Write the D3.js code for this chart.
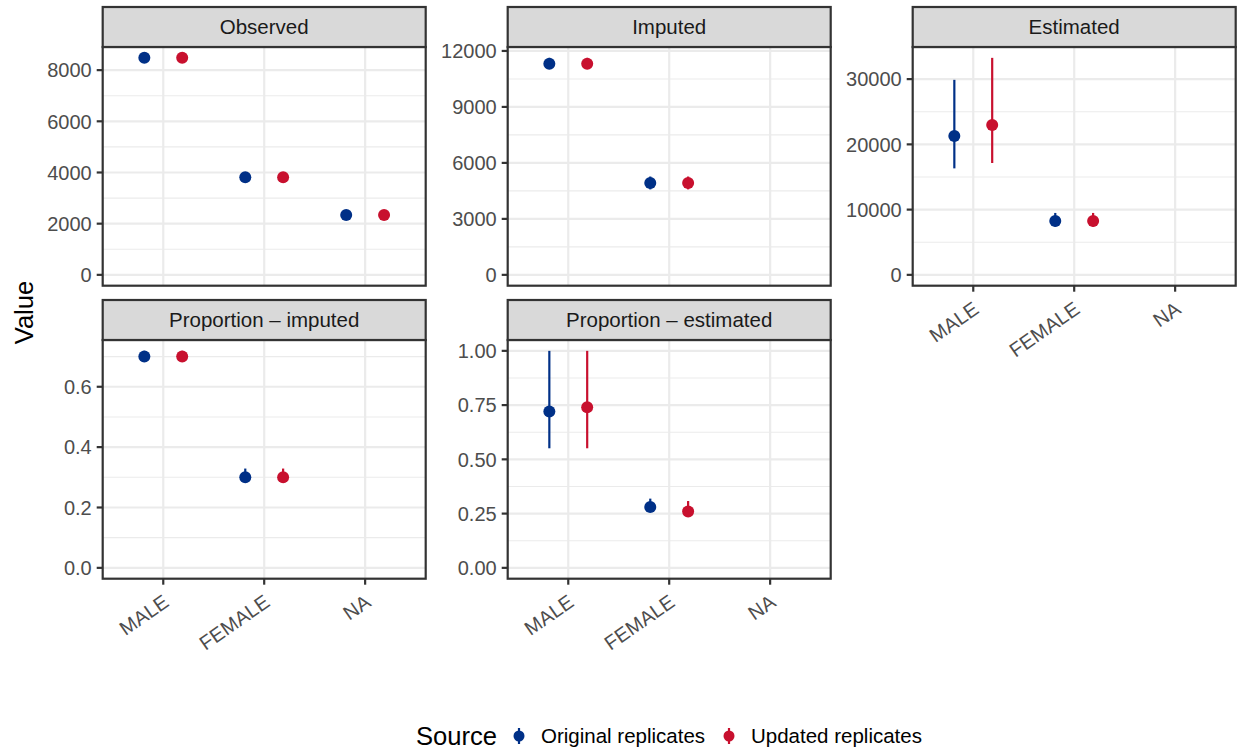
<!DOCTYPE html>
<html>
<head>
<meta charset="utf-8">
<script src="https://cdn.jsdelivr.net/npm/d3@7"></script>
<style>
  body { margin: 0; background: #fff; }
  text { font-family: "Liberation Sans", Arial, Helvetica, sans-serif; }
</style>
</head>
<body>
<svg id="chart" width="1238" height="753"></svg>
<script>
// ---------------- DATA ----------------
const categories = ["MALE", "FEMALE", "NA"];
const sources = ["Original replicates", "Updated replicates"];
const facetNames = ["Observed", "Imputed", "Estimated", "Proportion \u2013 imputed", "Proportion \u2013 estimated"];

// Observed
const observedOriginal = [8480, 3810, 2340];
const observedOriginalLo = [8480, 3810, 2340];
const observedOriginalHi = [8480, 3810, 2340];
const observedUpdated = [8480, 3810, 2340];
const observedUpdatedLo = [8480, 3810, 2340];
const observedUpdatedHi = [8480, 3810, 2340];

// Imputed
const imputedOriginal = [11320, 4920, null];
const imputedOriginalLo = [11030, 4580, null];
const imputedOriginalHi = [11630, 5270, null];
const imputedUpdated = [11320, 4920, null];
const imputedUpdatedLo = [11030, 4580, null];
const imputedUpdatedHi = [11630, 5270, null];

// Estimated
const estimatedOriginal = [21280, 8270, null];
const estimatedOriginalLo = [16320, 7400, null];
const estimatedOriginalHi = [29890, 9490, null];
const estimatedUpdated = [22960, 8270, null];
const estimatedUpdatedLo = [17140, 7400, null];
const estimatedUpdatedHi = [33260, 9490, null];

// Proportion – imputed
const propImpOriginal = [0.70, 0.30, null];
const propImpOriginalLo = [0.685, 0.285, null];
const propImpOriginalHi = [0.719, 0.329, null];
const propImpUpdated = [0.70, 0.30, null];
const propImpUpdatedLo = [0.685, 0.285, null];
const propImpUpdatedHi = [0.719, 0.329, null];

// Proportion – estimated
const propEstOriginal = [0.72, 0.28, null];
const propEstOriginalLo = [0.551, 0.257, null];
const propEstOriginalHi = [1.00, 0.319, null];
const propEstUpdated = [0.74, 0.26, null];
const propEstUpdatedLo = [0.551, 0.237, null];
const propEstUpdatedHi = [1.00, 0.308, null];

// Tick labels (major breaks) per facet
const observedTicks = ["0", "2000", "4000", "6000", "8000"];
const imputedTicks = ["0", "3000", "6000", "9000", "12000"];
const estimatedTicks = ["0", "10000", "20000", "30000"];
const propImpTicks = ["0.0", "0.2", "0.4", "0.6"];
const propEstTicks = ["0.00", "0.25", "0.50", "0.75", "1.00"];

const legendTitle = "Source";
const yTitle = "Value";

// ---------------- BUILD ----------------
const facetData = [
  { name: facetNames[0], ticks: observedTicks, series: [
      [observedOriginal, observedOriginalLo, observedOriginalHi],
      [observedUpdated, observedUpdatedLo, observedUpdatedHi]] },
  { name: facetNames[1], ticks: imputedTicks, series: [
      [imputedOriginal, imputedOriginalLo, imputedOriginalHi],
      [imputedUpdated, imputedUpdatedLo, imputedUpdatedHi]] },
  { name: facetNames[2], ticks: estimatedTicks, series: [
      [estimatedOriginal, estimatedOriginalLo, estimatedOriginalHi],
      [estimatedUpdated, estimatedUpdatedLo, estimatedUpdatedHi]] },
  { name: facetNames[3], ticks: propImpTicks, series: [
      [propImpOriginal, propImpOriginalLo, propImpOriginalHi],
      [propImpUpdated, propImpUpdatedLo, propImpUpdatedHi]] },
  { name: facetNames[4], ticks: propEstTicks, series: [
      [propEstOriginal, propEstOriginalLo, propEstOriginalHi],
      [propEstUpdated, propEstUpdatedLo, propEstUpdatedHi]] }
];

const colors = d3.scaleOrdinal().domain(sources).range(["#003087", "#C8102E"]);

// Layout
const colLeft = [102.7, 507.7, 912.7];
const panelW = 323;
const stripTop = [7, 300];
const stripH = 40;
const panelH = 238.7;
const fontTick = 20;
const fontStrip = 20.5;
const fontLegend = 20.5;
const fontTitle = 25.6;
const tickLen = 6;
const dodge = 0.75;

const svg = d3.select("#chart");

facetData.forEach((f, i) => {
  const col = i % 3, row = Math.floor(i / 3);
  const x0 = colLeft[col];
  const sTop = stripTop[row];
  const pTop = sTop + stripH;
  const pBot = pTop + panelH;

  // y domain from data, including 0, 5% expansion
  const allVals = [0];
  f.series.forEach(s => s.forEach(arr => arr.forEach(v => { if (v != null) allVals.push(v); })));
  const mn = d3.min(allVals), mx = d3.max(allVals);
  const pad = (mx - mn) * 0.05;
  const y = d3.scaleLinear().domain([mn - pad, mx + pad]).range([pBot, pTop]);

  const x = d3.scalePoint().domain(categories).range([x0, x0 + panelW]).padding(0.6);
  const step = x.step();

  const g = svg.append("g");

  g.append("rect").attr("x", x0).attr("y", pTop).attr("width", panelW).attr("height", panelH).attr("fill", "#fff");

  // gridlines
  const major = f.ticks.map(Number);
  const d = major[1] - major[0];
  const minor = [];
  for (let k = -1; k < major.length; k++) {
    const v = major[0] + (k + 0.5) * d;
    if (v >= y.domain()[0] && v <= y.domain()[1]) minor.push(v);
  }
  g.selectAll(".minor").data(minor).join("line")
    .attr("x1", x0).attr("x2", x0 + panelW)
    .attr("y1", v => y(v)).attr("y2", v => y(v))
    .attr("stroke", "#EBEBEB").attr("stroke-width", 1.1);
  g.selectAll(".majorY").data(major).join("line")
    .attr("x1", x0).attr("x2", x0 + panelW)
    .attr("y1", v => y(v)).attr("y2", v => y(v))
    .attr("stroke", "#EBEBEB").attr("stroke-width", 2.2);
  g.selectAll(".majorX").data(categories).join("line")
    .attr("x1", c => x(c)).attr("x2", c => x(c))
    .attr("y1", pTop).attr("y2", pBot)
    .attr("stroke", "#EBEBEB").attr("stroke-width", 2.2);

  // marks (pointrange, dodged)
  f.series.forEach((s, si) => {
    const off = (si - 0.5) * dodge / 2 * step;
    const pts = categories.map((c, ci) => ({ c, v: s[0][ci], lo: s[1][ci], hi: s[2][ci] })).filter(p => p.v != null);
    const colr = colors(sources[si]);
    g.selectAll(null).data(pts).join("line")
      .attr("x1", p => x(p.c) + off).attr("x2", p => x(p.c) + off)
      .attr("y1", p => y(p.lo)).attr("y2", p => y(p.hi))
      .attr("stroke", colr).attr("stroke-width", 2.2);
    g.selectAll(null).data(pts).join("circle")
      .attr("cx", p => x(p.c) + off).attr("cy", p => y(p.v))
      .attr("r", 6).attr("fill", colr);
  });

  // panel border
  g.append("rect").attr("x", x0).attr("y", pTop).attr("width", panelW).attr("height", panelH)
    .attr("fill", "none").attr("stroke", "#333333").attr("stroke-width", 2.2);

  // strip
  g.append("rect").attr("x", x0).attr("y", sTop).attr("width", panelW).attr("height", stripH)
    .attr("fill", "#D9D9D9").attr("stroke", "#333333").attr("stroke-width", 2.2);
  g.append("text").attr("x", x0 + panelW / 2).attr("y", sTop + stripH / 2 + 0.35 * fontStrip)
    .attr("text-anchor", "middle").attr("font-size", fontStrip).attr("fill", "#1A1A1A").text(f.name);

  // y axis
  const yAx = g.append("g");
  yAx.selectAll("line").data(major).join("line")
    .attr("x1", x0 - tickLen).attr("x2", x0)
    .attr("y1", v => y(v)).attr("y2", v => y(v))
    .attr("stroke", "#333333").attr("stroke-width", 2.2);
  yAx.selectAll("text").data(f.ticks).join("text")
    .attr("x", x0 - tickLen - 5).attr("y", t => y(+t) + 0.36 * fontTick)
    .attr("text-anchor", "end").attr("font-size", fontTick).attr("fill", "#4D4D4D").text(t => t);

  // x axis (bottom-most panel in each column)
  const hasAxis = row === 1 || col === 2;
  if (hasAxis) {
    const xAx = g.append("g");
    xAx.selectAll("line").data(categories).join("line")
      .attr("x1", c => x(c)).attr("x2", c => x(c))
      .attr("y1", pBot).attr("y2", pBot + tickLen)
      .attr("stroke", "#333333").attr("stroke-width", 2.2);
    xAx.selectAll("text").data(categories).join("text")
      .attr("transform", c => `translate(${x(c) - 1.3},${pBot + 14.5}) rotate(-35)`)
      .attr("dy", "0.72em")
      .attr("text-anchor", "end").attr("font-size", fontTick).attr("fill", "#4D4D4D").text(c => c);
  }
});

// y axis title
svg.append("text").attr("transform", "translate(33,312.5) rotate(-90)")
  .attr("text-anchor", "middle").attr("font-size", fontTitle).attr("fill", "#000").text(yTitle);

// legend
const lg = svg.append("g");
lg.append("text").attr("x", 416).attr("y", 745).attr("font-size", fontTitle).attr("fill", "#000").text(legendTitle);
const keyX = [519, 729];
const labX = [541, 751];
sources.forEach((s, i) => {
  lg.append("line").attr("x1", keyX[i]).attr("x2", keyX[i]).attr("y1", 728).attr("y2", 744)
    .attr("stroke", colors(s)).attr("stroke-width", 2.2);
  lg.append("circle").attr("cx", keyX[i]).attr("cy", 736).attr("r", 5.5).attr("fill", colors(s));
  lg.append("text").attr("x", labX[i]).attr("y", 743).attr("font-size", fontLegend).attr("fill", "#000").text(s);
});
</script>
</body>
</html>
